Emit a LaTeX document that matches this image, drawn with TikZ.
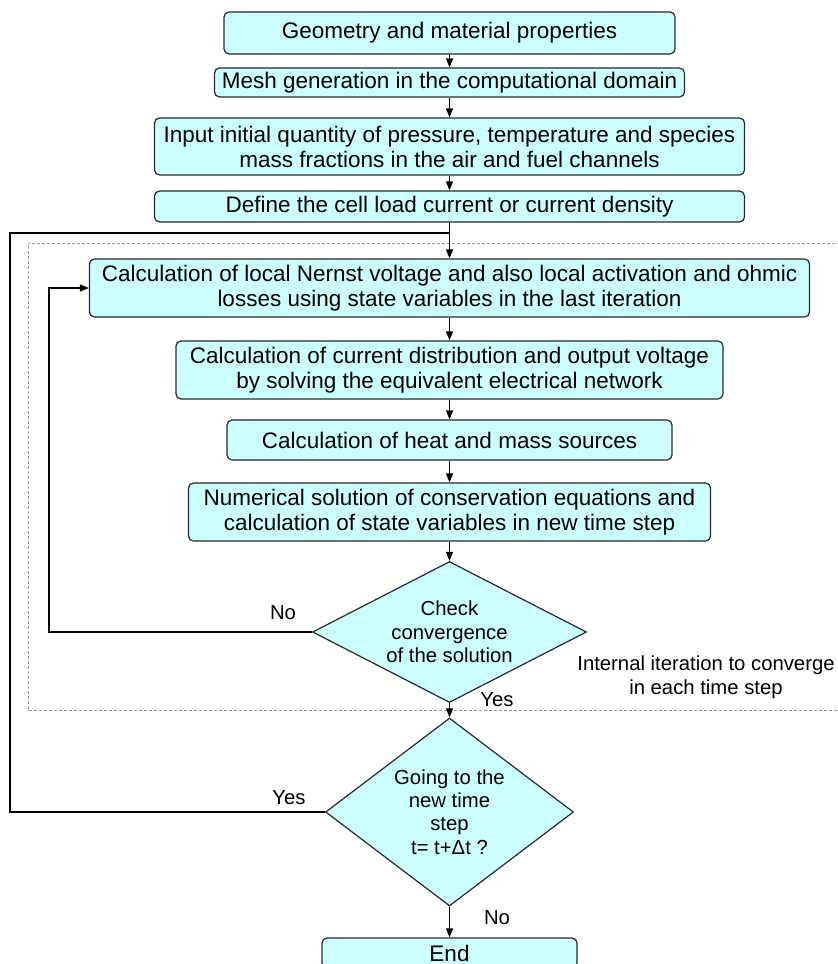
\documentclass[tikz,border=0pt]{standalone}
\usepackage{fontspec}
\setmainfont{Liberation Sans}
\usetikzlibrary{shapes.geometric,arrows.meta}
\definecolor{boxfill}{RGB}{204,255,255}
\definecolor{boxline}{RGB}{40,40,40}
\definecolor{dashgray}{RGB}{150,150,150}
\begin{document}
\begin{tikzpicture}[x=1pt,y=-1pt,
  proc/.style={draw=boxline, fill=boxfill, rounded corners=5pt, line width=1.2pt,
    align=center, inner sep=0pt, font=\fontsize{22.5pt}{25pt}\selectfont},
  dec/.style={draw=boxline, fill=boxfill, diamond, line width=1.2pt,
    align=center, inner sep=0pt, font=\fontsize{20.3pt}{23.3pt}\selectfont},
  conn/.style={line width=1.4pt, draw=black},
  arr/.style={conn, -{Triangle[length=9pt,width=7pt]}},
  loopline/.style={line width=2pt, draw=black},
  frame/.style={draw=dashgray, line width=0.9pt, dash pattern=on 3pt off 2pt},
  lbl/.style={font=\fontsize{20.3pt}{24pt}\selectfont, inner sep=0pt, align=center}]
\useasboundingbox (0,0) rectangle (838,964);

% dashed frame of the inner iteration
\draw[frame] (845,243) -- (28,243) -- (28,710) -- (845,710);

% process boxes
\node[proc, minimum width=451pt, minimum height=42pt] (b1) at (449.5,33) {Geometry and material properties};
\node[proc, minimum width=470pt, minimum height=29pt] (b2) at (449.5,82.5) {Mesh generation in the computational domain};
\node[proc, minimum width=590pt, minimum height=57pt] (b3) at (449.5,146.5) {Input initial quantity of pressure, temperature and species\\mass fractions in the air and fuel channels};
\node[proc, minimum width=590pt, minimum height=31pt] (b4) at (449.5,206.5) {Define the cell load current or current density};
\node[proc, minimum width=720pt, minimum height=58pt] (b5) at (449.5,288) {Calculation of local Nernst voltage and also local activation and ohmic\\losses using state variables in the last iteration};
\node[proc, minimum width=547pt, minimum height=58pt] (b6) at (449.5,370) {Calculation of current distribution and output voltage\\by solving the equivalent electrical network};
\node[proc, minimum width=445pt, minimum height=40pt] (b7) at (449.5,440) {Calculation of heat and mass sources};
\node[proc, minimum width=522pt, minimum height=58pt] (b8) at (449.5,512) {Numerical solution of conservation equations and\\calculation of state variables in new time step};

% decisions
\node[dec, shape aspect=1.94, minimum width=274pt, minimum height=141pt] (d1) at (449.5,632) {Check\\convergence\\of the solution};
\node[dec, shape aspect=1.32, minimum width=248pt, minimum height=188pt] (d2) at (449.5,812) {Going to the\\new time\\step\\t= t+Δt ?};

\node[proc, minimum width=255pt, minimum height=30pt] (end) at (449.5,953) {End};

% labels
\node[lbl] (no1) at (283,613) {No};
\node[lbl] (yes1) at (497,700) {Yes};
\node[lbl] (yes2) at (289,798) {Yes};
\node[lbl] (no2) at (497,918) {No};
\node[lbl] (note) at (706,677) {Internal iteration to converge\\in each time step};

% helper coordinates
\coordinate (J) at (449.5,233);
\coordinate (OL) at (10,233);
\coordinate (FB) at (49,288);

% connectors
\draw[arr] (b1) -- (b2);
\draw[arr] (b2) -- (b3);
\draw[arr] (b3) -- (b4);
\draw[arr] (b4) -- (b5);
\draw[arr] (b5) -- (b6);
\draw[arr] (b6) -- (b7);
\draw[arr] (b7) -- (b8);
\draw[arr] (b8) -- (d1);
\draw[arr] (d1) -- (d2);
\draw[arr] (d2) -- (end);
\draw[arr] (d1.west) -| (FB) -- (b5.west);
\draw[loopline] (d2.west) -| (OL) -- (J);
\end{tikzpicture}
\end{document}
